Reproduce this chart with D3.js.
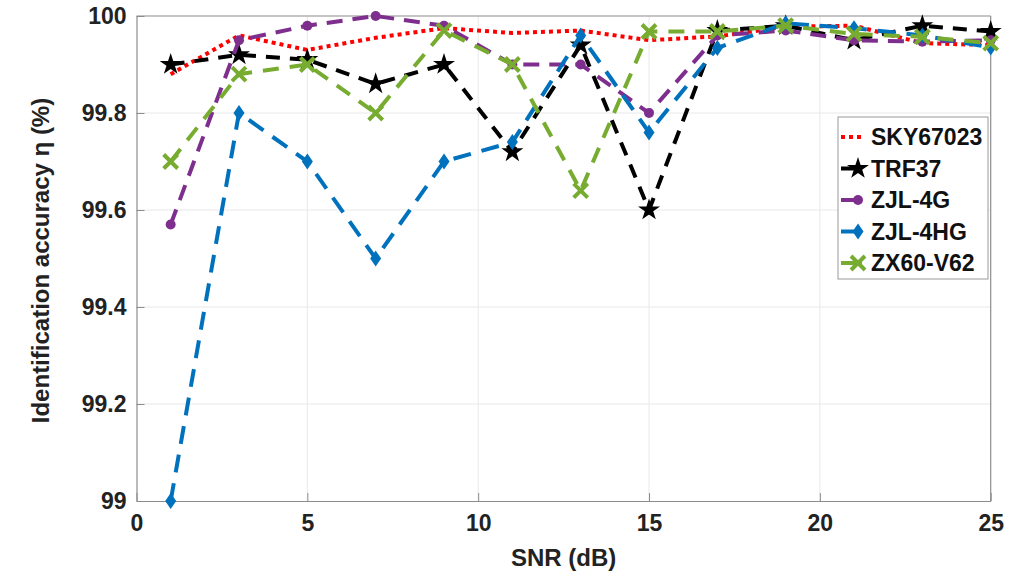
<!DOCTYPE html>
<html>
<head>
<meta charset="utf-8">
<script src="https://cdn.jsdelivr.net/npm/d3@7"></script>
<style>
  body { margin: 0; background: #fff; }
  text { font-family: "Liberation Sans", Arial, sans-serif; font-weight: bold; fill: #222; }
</style>
</head>
<body>
<div id="holder"></div>
<script>
// SNR values (dB)
var snr = [1, 3, 5, 7, 9, 11, 13, 15, 17, 19, 21, 23, 25];
var sky67023 = [99.88, 99.96, 99.93, 99.955, 99.975, 99.965, 99.97, 99.95, 99.958, 99.978, 99.98, 99.944, 99.94];
var trf37    = [99.90, 99.92, 99.91, 99.86, 99.90, 99.72, 99.94, 99.60, 99.97, 99.98, 99.95, 99.98, 99.968];
var zjl4g    = [99.57, 99.95, 99.98, 100.0, 99.98, 99.90, 99.90, 99.80, 99.96, 99.97, 99.95, 99.947, 99.95];
var zjl4hg   = [99.00, 99.80, 99.70, 99.50, 99.70, 99.74, 99.96, 99.76, 99.934, 99.985, 99.975, 99.96, 99.935];
var zx60v62  = [99.70, 99.88, 99.90, 99.80, 99.97, 99.90, 99.64, 99.968, 99.968, 99.98, 99.963, 99.957, 99.944];
var xTicks = [0, 5, 10, 15, 20, 25];
var yTicks = [99, 99.2, 99.4, 99.6, 99.8, 100];

var series = [
  {name: 'SKY67023', vals: sky67023, color: '#ff0000', dash: '4,4', marker: null},
  {name: 'TRF37',    vals: trf37,    color: '#000000', dash: '14,10', marker: 'star'},
  {name: 'ZJL-4G',   vals: zjl4g,    color: '#7e2f8e', dash: '16,10', marker: 'circle'},
  {name: 'ZJL-4HG',  vals: zjl4hg,   color: '#0072bd', dash: '18,11', marker: 'diamond'},
  {name: 'ZX60-V62', vals: zx60v62,  color: '#77ac30', dash: '16,11', marker: 'x'}
];

var W = 1025, H = 577;
var pLeft = 136.5, pRight = 990.7, pTop = 16, pBottom = 501;

var svg = d3.select('#holder').append('svg').attr('width', W).attr('height', H);

var x = d3.scaleLinear().domain([0, 25]).range([pLeft, pRight]);
var y = d3.scaleLinear().domain([99, 100]).range([pBottom, pTop]);

// grid
svg.append('g').selectAll('line').data(xTicks.slice(1, -1)).enter().append('line')
  .attr('x1', d => x(d)).attr('x2', d => x(d)).attr('y1', pTop).attr('y2', pBottom)
  .style('stroke', '#e8e8e8').style('stroke-width', 1);
svg.append('g').selectAll('line').data(yTicks.slice(1, -1)).enter().append('line')
  .attr('x1', pLeft).attr('x2', pRight).attr('y1', d => y(d)).attr('y2', d => y(d))
  .style('stroke', '#e8e8e8').style('stroke-width', 1);

// axes
var xAxis = svg.append('g').attr('transform', 'translate(0,' + pBottom + ')')
  .call(d3.axisBottom(x).tickValues(xTicks).tickSizeInner(-8).tickSizeOuter(0).tickPadding(14));
var yAxis = svg.append('g').attr('transform', 'translate(' + pLeft + ',0)')
  .call(d3.axisLeft(y).tickValues(yTicks).tickFormat(d => d3.format('~g')(d)).tickSizeInner(-8).tickSizeOuter(0).tickPadding(10));
[xAxis, yAxis].forEach(function(a) {
  a.select('.domain').style('stroke', '#8c8c8c').style('stroke-width', 1.2);
  a.selectAll('.tick line').style('stroke', '#8c8c8c');
  a.selectAll('.tick text').style('font-size', '23px').style('font-family', '"Liberation Sans", Arial, sans-serif').style('font-weight', 'bold').style('fill', '#222');
});
// box top/right
svg.append('line').attr('x1', pLeft).attr('x2', pRight).attr('y1', pTop).attr('y2', pTop).style('stroke', '#8c8c8c').style('stroke-width', 1.2);
svg.append('line').attr('x1', pRight).attr('x2', pRight).attr('y1', pTop).attr('y2', pBottom).style('stroke', '#8c8c8c').style('stroke-width', 1.2);

// labels
svg.append('text').attr('x', (pLeft + pRight) / 2).attr('y', 566).attr('text-anchor', 'middle')
  .style('font-size', '24px').text('SNR (dB)');
svg.append('text').attr('transform', 'translate(49,' + ((pTop + pBottom) / 2 + 2) + ') rotate(-90)')
  .attr('text-anchor', 'middle').style('font-size', '24px').text('Identification accuracy η (%)');

var starPath = d3.symbol().type(d3.symbolStar).size(150)();
var diamondPath = 'M0,-8L5.5,0L0,8L-5.5,0Z';

function drawMarker(g, m, color) {
  if (m === 'star') {
    g.append('path').attr('d', starPath).style('fill', color);
  } else if (m === 'circle') {
    g.append('circle').attr('r', 5).style('fill', color);
  } else if (m === 'diamond') {
    g.append('path').attr('d', diamondPath).style('fill', color);
  } else if (m === 'x') {
    g.append('path').attr('d', 'M-7,-7L7,7M-7,7L7,-7').style('stroke', color).style('stroke-width', 4).style('fill', 'none');
  }
}

var line = d3.line().x((d, i) => x(snr[i])).y(d => y(d));

series.forEach(function(s) {
  var g = svg.append('g');
  g.append('path').datum(s.vals).attr('d', line)
    .style('fill', 'none').style('stroke', s.color).style('stroke-width', 4)
    .style('stroke-dasharray', s.dash);
  if (s.marker) {
    s.vals.forEach(function(v, i) {
      var mg = g.append('g').attr('transform', 'translate(' + x(snr[i]) + ',' + y(v) + ')');
      drawMarker(mg, s.marker, s.color);
    });
  }
});

// legend
var lg = svg.append('g').attr('transform', 'translate(838,117)');
lg.append('rect').attr('width', 150).attr('height', 162).style('fill', '#fff').style('stroke', '#9a9a9a').style('stroke-width', 1);
series.forEach(function(s, i) {
  var cy = 20 + i * 31.5;
  lg.append('line').attr('x1', 3).attr('x2', 24).attr('y1', cy).attr('y2', cy)
    .style('stroke', s.color).style('stroke-width', 4).style('stroke-dasharray', s.marker ? null : '4,4');
  if (s.marker) drawMarker(lg.append('g').attr('transform', 'translate(' + 20 + ',' + cy + ')'), s.marker, s.color);
  lg.append('text').attr('x', 33).attr('y', cy + 8).style('font-size', '23px').style('fill', '#111').text(s.name);
});
</script>
</body>
</html>
